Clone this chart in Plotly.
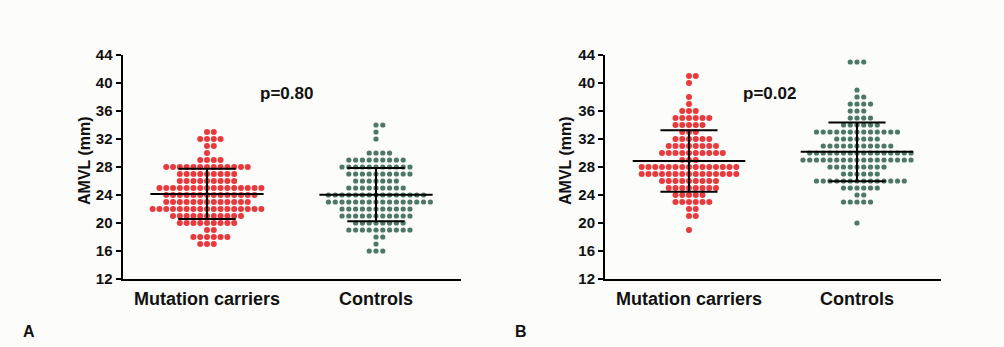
import numpy as np
import plotly.graph_objects as go

# ---------------- data (AMVL in mm, counts per integer value) ----------------
categories = ["Mutation carriers", "Controls"]

a_mut_mm = [33, 32, 31, 30, 29, 28, 27, 26, 25, 24, 23, 22, 21, 20, 19, 18, 17]
a_mut_n = [2, 4, 2, 1, 4, 13, 9, 9, 16, 14, 13, 17, 11, 9, 2, 6, 3]

a_ctl_mm = [34, 33, 32, 30, 29, 28, 27, 26, 25, 24, 23, 22, 21, 20, 19, 18, 17, 16]
a_ctl_n = [2, 1, 1, 4, 9, 11, 10, 7, 9, 15, 16, 11, 11, 8, 10, 2, 1, 3]

b_mut_mm = [41, 40, 38, 37, 36, 35, 34, 33, 32, 31, 30, 29, 28, 27, 26, 25, 24, 23, 22, 21, 19]
b_mut_n = [2, 1, 1, 1, 3, 6, 5, 3, 6, 8, 10, 3, 15, 15, 9, 8, 5, 6, 2, 2, 1]

b_ctl_mm = [43, 39, 38, 37, 36, 35, 34, 33, 32, 31, 30, 29, 28, 27, 26, 25, 24, 23, 20]
b_ctl_n = [3, 1, 2, 4, 3, 4, 6, 13, 7, 11, 16, 17, 9, 6, 14, 6, 2, 5, 1]

p_values = ["p=0.80", "p=0.02"]
panel_labels = ["A", "B"]
y_ticks = [12, 16, 20, 24, 28, 32, 36, 40, 44]
y_title = "AMVL (mm)"

# ---------------- styling ----------------
W, H = 1004, 347
BG = "#fcfcfa"
RED = "#e8393c"
GREEN = "#4d7867"
FONT = "Liberation Sans, Arial, sans-serif"
DOT_STEP = 0.0402      # horizontal spacing of dots (x units)
MEAN_HALF = 0.335
SD_HALF = 0.17


def swarm(values, counts, center):
    xs, ys = [], []
    for v, n in zip(values, counts):
        lo = -((n - 1) // 2)
        for k in range(lo, lo + n):
            xs.append(center + k * DOT_STEP)
            ys.append(v)
    return xs, ys


def expand(values, counts):
    return np.repeat(np.array(values, float), np.array(counts))


fig = go.Figure()

panels = [
    (a_mut_mm, a_mut_n, a_ctl_mm, a_ctl_n),
    (b_mut_mm, b_mut_n, b_ctl_mm, b_ctl_n),
]

for pi, (m_mm, m_n, c_mm, c_n) in enumerate(panels):
    xa = "x" if pi == 0 else "x2"
    ya = "y" if pi == 0 else "y2"
    for ci, (vals, cnts, col, size) in enumerate(
        [(m_mm, m_n, RED, 6), (c_mm, c_n, GREEN, 5.2)]
    ):
        xs, ys = swarm(vals, cnts, ci)
        fig.add_trace(go.Scatter(
            x=xs, y=ys, mode="markers", xaxis=xa, yaxis=ya,
            marker=dict(color=col, size=size, line=dict(width=0)),
            showlegend=False, hoverinfo="skip"))
        data = expand(vals, cnts)
        mean = data.mean()
        sd = data.std(ddof=1)
        lx = [ci - MEAN_HALF, ci + MEAN_HALF, None,
              ci - SD_HALF, ci + SD_HALF, None,
              ci - SD_HALF, ci + SD_HALF, None,
              ci, ci]
        ly = [mean, mean, None,
              mean + sd, mean + sd, None,
              mean - sd, mean - sd, None,
              mean - sd, mean + sd]
        fig.add_trace(go.Scatter(
            x=lx, y=ly, mode="lines", xaxis=xa, yaxis=ya,
            line=dict(color="black", width=2),
            showlegend=False, hoverinfo="skip"))

y_dom = [1 - 279 / H, 1 - 55 / H]
x_doms = [[122.5 / W, 460.5 / W], [605 / W, 941 / W]]

tickfont = dict(family=FONT, size=15, color="#111", weight="bold")
catfont = dict(family=FONT, size=18, color="#111", weight="bold")

for pi in range(2):
    sx = "" if pi == 0 else "2"
    fig.update_layout(**{
        f"xaxis{sx}": dict(
            domain=x_doms[pi], range=[-0.5, 1.5],
            anchor=f"y{sx}",
            tickvals=[0, 1], ticktext=categories,
            showline=True, linecolor="black", linewidth=2,
            ticks="outside", ticklen=2, tickcolor="rgba(0,0,0,0)",
            showgrid=False, zeroline=False, tickfont=catfont,
            fixedrange=True, automargin=False),
        f"yaxis{sx}": dict(
            domain=y_dom, range=[12, 44],
            anchor=f"x{sx}",
            tickvals=y_ticks,
            showline=True, linecolor="black", linewidth=2,
            ticks="outside", ticklen=5, tickwidth=1.5, tickcolor="black",
            showgrid=False, zeroline=False, tickfont=tickfont,
            fixedrange=True, automargin=False),
    })

annotations = []
title_x = [85, 566]
p_x = [286, 769]
lab_x = [29, 521]
for pi in range(2):
    annotations.append(dict(
        text=y_title, x=title_x[pi] / W, y=1 - 161 / H, xref="paper", yref="paper",
        showarrow=False, textangle=-90, xanchor="center", yanchor="middle",
        font=dict(family=FONT, size=16, color="#111", weight="bold")))
    annotations.append(dict(
        text=p_values[pi], x=p_x[pi] / W, y=1 - 94 / H, xref="paper", yref="paper",
        showarrow=False, xanchor="center", yanchor="middle",
        font=dict(family=FONT, size=17, color="#111", weight="bold")))
    annotations.append(dict(
        text=panel_labels[pi], x=lab_x[pi] / W, y=1 - 331 / H, xref="paper", yref="paper",
        showarrow=False, xanchor="center", yanchor="middle",
        font=dict(family=FONT, size=16, color="#111", weight="bold")))

fig.update_layout(
    width=W, height=H,
    margin=dict(l=0, r=0, t=0, b=0, pad=0),
    paper_bgcolor=BG, plot_bgcolor=BG,
    annotations=annotations,
)

fig.write_html(
    "out.html",
    config={"displayModeBar": False},
    post_script="document.body.style.margin='0';document.body.style.background='%s';" % BG,
)
